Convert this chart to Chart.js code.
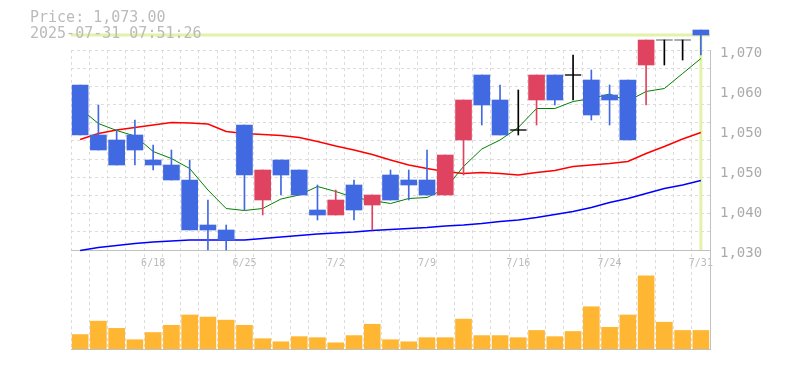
<!DOCTYPE html>
<html>
<head>
<meta charset="utf-8">
<script src="https://cdn.jsdelivr.net/npm/chart.js@4"></script>
<style>
  html, body { margin: 0; padding: 0; background: #fff; }
  #wrap { position: relative; width: 785px; height: 370px; }
  #info {
    position: absolute; left: 30px; top: 9px;
    font: 15px "DejaVu Sans Mono", monospace; line-height: 16px;
    color: #bbb; white-space: pre;
  }
</style>
</head>
<body>
<div id="wrap">
  <canvas id="stockChart" width="785" height="370"></canvas>
  <div id="info">Price: 1,073.00
2025-07-31 07:51:26</div>
</div>
<script>
// daily candles
const dates = ['6/12', '6/13', '6/16', '6/17', '6/18', '6/19', '6/20', '6/23', '6/24', '6/25',
  '6/26', '6/27', '6/30', '7/1', '7/2', '7/3', '7/4', '7/7', '7/8', '7/9',
  '7/10', '7/11', '7/14', '7/15', '7/16', '7/17', '7/18', '7/22', '7/23', '7/24',
  '7/25', '7/28', '7/29', '7/30', '7/31'];
const opens = [1063, 1053, 1052, 1053, 1048, 1047, 1044, 1035, 1034, 1055,
  1040, 1048, 1046, 1038, 1037, 1043, 1039, 1045, 1044, 1044,
  1041, 1052, 1065, 1060, 1054, 1060, 1065, 1065, 1064, 1061,
  1064, 1067, 1072, 1072, 1074];
const highs = [1063, 1059, 1054, 1056, 1051, 1050, 1048, 1040, 1035, 1055,
  1046, 1048, 1046, 1043, 1042, 1044, 1041, 1046, 1046, 1050,
  1049, 1060, 1065, 1063, 1062, 1065, 1065, 1069, 1066, 1063,
  1064, 1072, 1072, 1072, 1074];
const lows = [1053, 1050, 1047, 1047, 1046, 1044, 1034, 1030, 1030, 1038,
  1037, 1041, 1041, 1036, 1037, 1036, 1034, 1040, 1040, 1041,
  1041, 1045, 1055, 1053, 1053, 1055, 1059, 1060, 1056, 1055,
  1052, 1059, 1067, 1068, 1069];
const closes = [1053, 1050, 1047, 1050, 1047, 1044, 1034, 1034, 1032, 1045,
  1046, 1045, 1041, 1037, 1040, 1038, 1041, 1040, 1043, 1041,
  1049, 1060, 1059, 1053, 1054, 1065, 1060, 1065, 1057, 1060,
  1052, 1072, 1072, 1072, 1073];
const volumes = [14, 27, 20, 9, 16, 23, 33, 31, 28, 23,
  10, 7, 12, 11, 6, 13, 24, 9, 7, 11,
  11, 29, 13, 13, 11, 18, 12, 17, 41, 21,
  33, 71, 26, 18, 18];

// moving averages as drawn
const ma5 = [1058.3, 1055.3, 1053.9, 1052.8, 1049.7, 1048.3, 1046.3, 1042, 1038.3, 1037.9,
  1038.3, 1040.2, 1041, 1042.7, 1041.7, 1040.5, 1039.9, 1039.3, 1040.3, 1040.5,
  1042.3, 1046.7, 1050.2, 1052, 1054.5, 1058.3, 1058.3, 1059.7, 1060.3, 1061.2,
  1059.8, 1061.7, 1062.3, 1065.3, 1068.3];
const ma25 = [1052.1, 1053.3, 1054, 1054.5, 1055, 1055.5, 1055.4, 1055.2, 1053.7, 1053.3,
  1053.1, 1052.9, 1052.5, 1051.7, 1050.8, 1050, 1049.1, 1048, 1047, 1046.3,
  1045.7, 1045.3, 1045.5, 1045.3, 1045, 1045.5, 1045.9, 1046.7, 1047, 1047.3,
  1047.7, 1049.3, 1050.7, 1052.2, 1053.5];
const ma75 = [1029.9, 1030.5, 1030.9, 1031.3, 1031.6, 1031.8, 1032, 1032, 1032, 1032,
  1032.3, 1032.6, 1032.9, 1033.2, 1033.4, 1033.6, 1033.9, 1034.1, 1034.3, 1034.5,
  1034.8, 1035, 1035.3, 1035.7, 1036, 1036.5, 1037.1, 1037.7, 1038.5, 1039.5,
  1040.3, 1041.3, 1042.3, 1043, 1043.9];

// axis labels
const xTickLabels = ['6/18', '6/25', '7/2', '7/9', '7/16', '7/24', '7/31'];
const priceTickValues = [1030, 1038, 1046, 1054, 1062, 1070];
const priceTickLabels = ['1,030', '1,040', '1,050', '1,050', '1,060', '1,070'];

const priceFloor = 1030;
const priceMax = 1070;
const priceMin = 1010.2; // leaves room for the volume panel below
const lastPrice = closes[closes.length - 1];

// candle colours: red up, blue down, black unchanged
const colors = opens.map((o, i) => closes[i] > o ? '#e0435f' : (closes[i] < o ? '#4169e1' : '#000000'));
const bodies = opens.map((o, i) => [o, closes[i]]);
const wicks = lows.map((l, i) => [l, highs[i]]);
// unchanged days get a flat tick instead of a body
const dojis = opens.map((o, i) => o === closes[i] ? closes[i] : null);

// price grid: 11 equal steps, labels on their own 5 steps
const priceTicks = [];
for (let k = 0; k <= 11; k++) {
  priceTicks.push({ value: priceFloor + k * (priceMax - priceFloor) / 11, grid: true });
}
priceTickValues.forEach((v, i) => {
  const same = priceTicks.find(t => Math.abs(t.value - v) < 1e-6);
  if (same) same.text = priceTickLabels[i];
  else priceTicks.push({ value: v, grid: false, text: priceTickLabels[i] });
});
priceTicks.sort((a, b) => a.value - b.value);

// last price crosshair
const crosshair = {
  id: 'crosshair',
  beforeDatasetsDraw(chart) {
    const { ctx, chartArea, scales } = chart;
    const py = scales.y.getPixelForValue(lastPrice);
    const px = scales.x.getPixelForValue(dates.length - 1);
    ctx.save();
    ctx.strokeStyle = '#e2f2a8';
    ctx.lineWidth = 3;
    ctx.beginPath();
    ctx.moveTo(chartArea.left, py);
    ctx.lineTo(chartArea.right, py);
    ctx.moveTo(px, py);
    ctx.lineTo(px, scales.y.getPixelForValue(priceFloor));
    ctx.stroke();
    ctx.restore();
  }
};

const ctx = document.getElementById('stockChart').getContext('2d');

new Chart(ctx, {
  type: 'bar',
  data: {
    labels: dates,
    datasets: [
      { type: 'line', data: dojis, showLine: false, pointStyle: 'line', pointRadius: 8,
        pointBorderColor: '#000000', pointBorderWidth: 1, yAxisID: 'y', order: 0, clip: false },
      { type: 'bar', data: bodies, backgroundColor: colors, barThickness: 16,
        grouped: false, yAxisID: 'y', order: 1, clip: false },
      { type: 'bar', data: wicks, backgroundColor: colors, barThickness: 1,
        grouped: false, yAxisID: 'y', order: 2, clip: false },
      { type: 'line', data: ma5, borderColor: '#008000', borderWidth: 1, pointRadius: 0, yAxisID: 'y', order: 3 },
      { type: 'line', data: ma25, borderColor: '#ff0000', borderWidth: 1.5, pointRadius: 0, yAxisID: 'y', order: 4 },
      { type: 'line', data: ma75, borderColor: '#0000ff', borderWidth: 1.5, pointRadius: 0, yAxisID: 'y', order: 5 },
      { type: 'bar', data: volumes, backgroundColor: '#ffb733', barThickness: 16,
        grouped: false, yAxisID: 'yVol', order: 6 }
    ]
  },
  options: {
    responsive: false,
    animation: false,
    layout: { padding: { left: 71, top: 50, right: 0, bottom: 0 } },
    plugins: { legend: { display: false }, tooltip: { enabled: false } },
    scales: {
      x: {
        offset: true,
        grid: { offset: true, color: '#dcdcdc', drawTicks: false },
        border: { display: true, color: '#c0c0c0', dash: [3, 3] },
        ticks: {
          autoSkip: false, maxRotation: 0, minRotation: 0, mirror: true, padding: 80,
          color: '#bbbbbb', font: { family: 'DejaVu Sans Mono', size: 10 },
          callback: function (v) {
            const l = this.getLabelForValue(v);
            return xTickLabels.includes(l) ? l : '';
          }
        },
        afterFit: s => { s.height = 21; s.paddingLeft = 0; s.paddingRight = 0; }
      },
      y: {
        position: 'right',
        min: priceMin,
        max: priceMax,
        afterBuildTicks: s => { s.ticks = priceTicks; },
        grid: {
          drawTicks: false,
          color: c => c.tick && c.tick.grid ? (c.tick.value === priceFloor ? '#c0c0c0' : '#dcdcdc') : 'rgba(0,0,0,0)'
        },
        border: {
          display: true, color: '#c0c0c0',
          dash: c => (c.tick && c.tick.value === priceFloor) ? [] : [3, 3]
        },
        ticks: {
          autoSkip: false, padding: 10, labelOffset: 3,
          color: '#aaaaaa', font: { family: 'DejaVu Sans Mono', size: 14 },
          callback: (v, i, t) => t[i].text || ''
        },
        afterFit: s => { s.width = 75; }
      },
      yVol: { display: false, min: 0, max: 290 }
    }
  },
  plugins: [crosshair]
});
</script>
</body>
</html>
